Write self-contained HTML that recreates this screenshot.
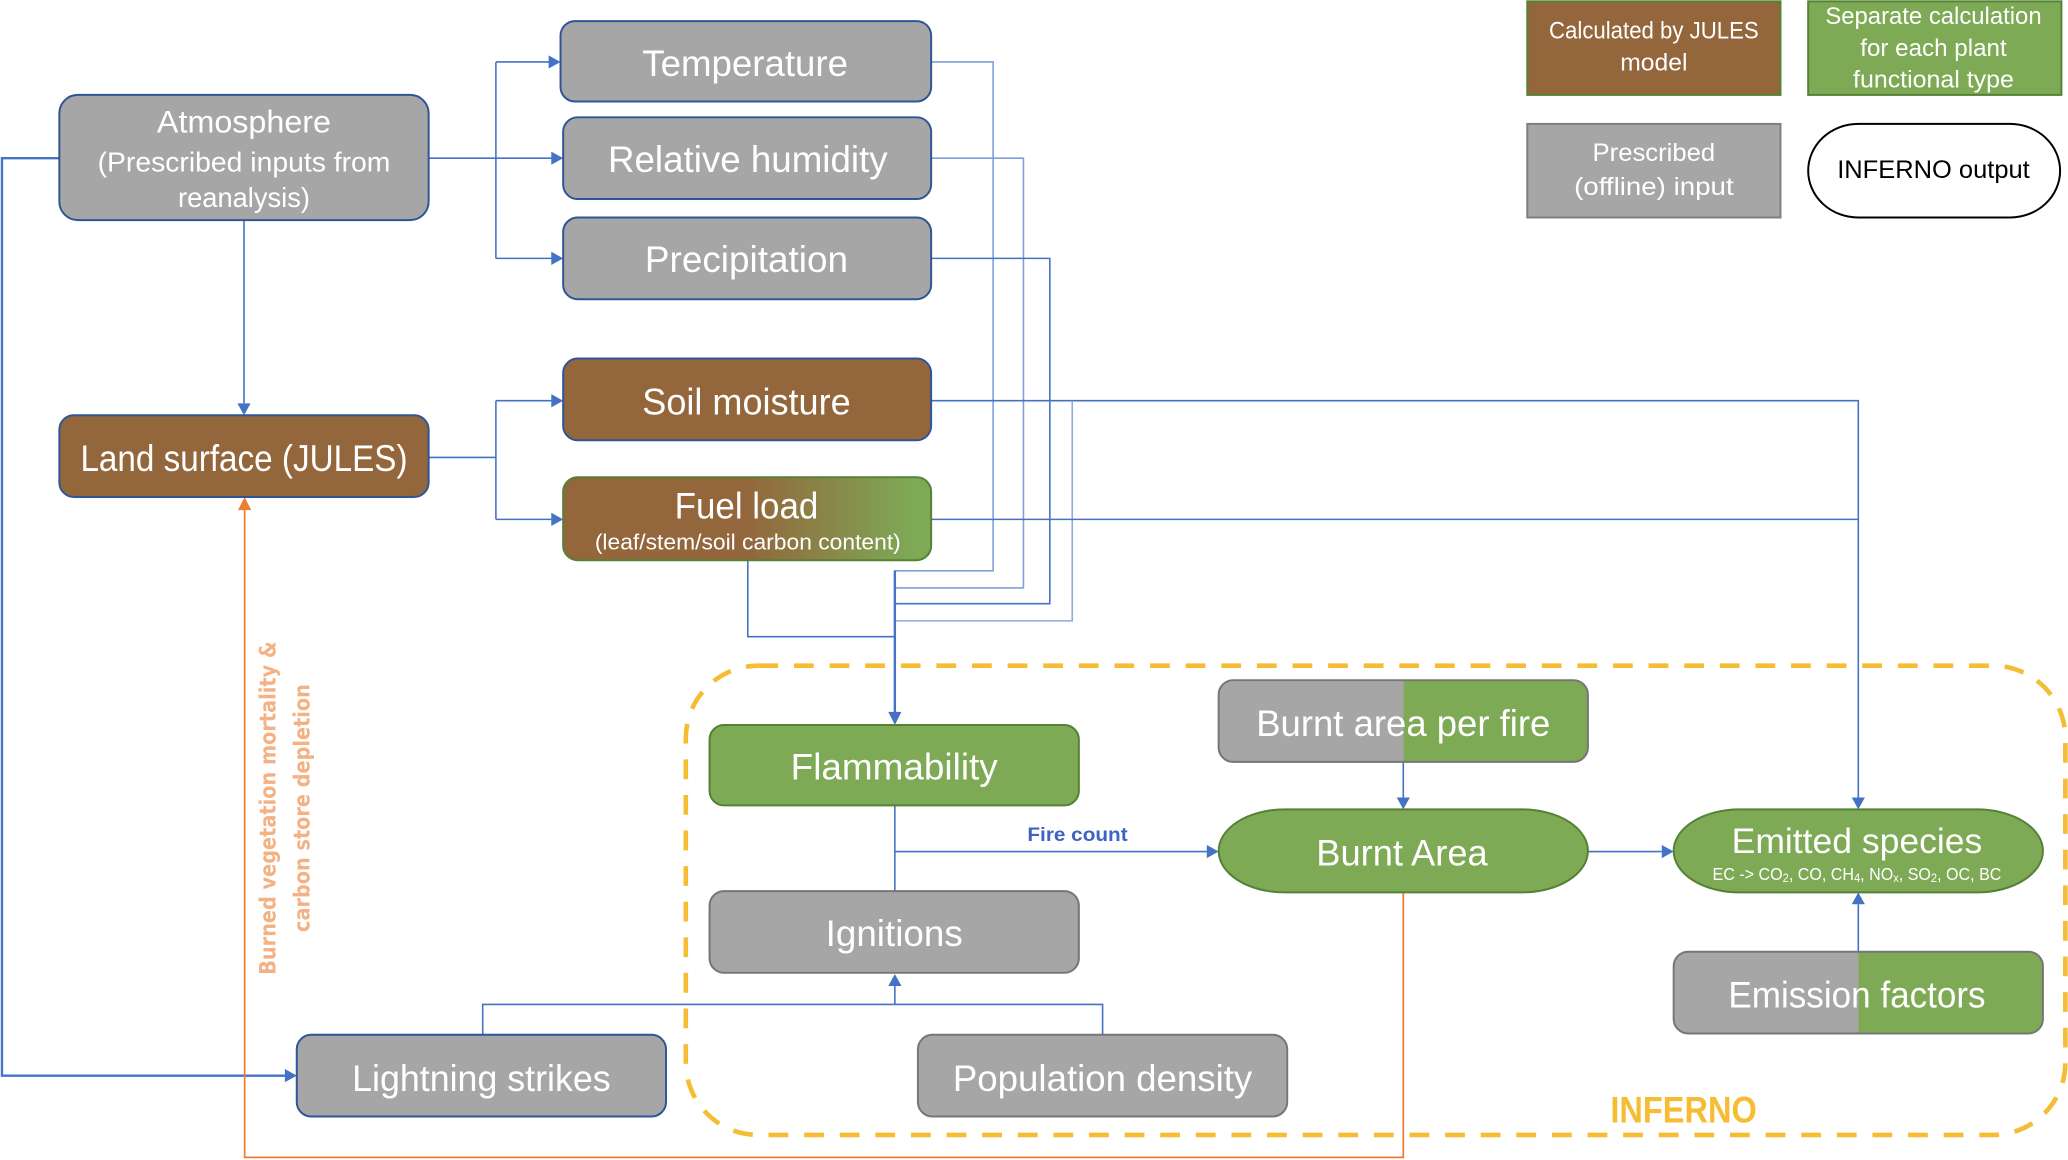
<!DOCTYPE html>
<html><head><meta charset="utf-8"><style>
html,body{margin:0;padding:0;background:#fff;}
svg{display:block;}
text{font-family:"Liberation Sans",sans-serif;}
</style></head><body>
<svg width="2068" height="1160" viewBox="0 0 1568 880" preserveAspectRatio="none" xmlns="http://www.w3.org/2000/svg">
<defs>
<linearGradient id="fuel" x1="0" y1="0" x2="1" y2="0">
<stop offset="0" stop-color="#93663C"/><stop offset="0.5" stop-color="#93663C"/><stop offset="0.95" stop-color="#7EA955"/><stop offset="1" stop-color="#7EA955"/>
</linearGradient>
<linearGradient id="split" x1="0" y1="0" x2="1" y2="0">
<stop offset="0" stop-color="#A6A6A6"/><stop offset="0.5" stop-color="#A6A6A6"/><stop offset="0.5" stop-color="#7EA955"/><stop offset="1" stop-color="#7EA955"/>
</linearGradient>
</defs>

<!-- INFERNO dashed region -->
<rect x="520" y="505" width="1046" height="356" rx="55" ry="55" fill="none" stroke="#F6BC33" stroke-width="3.5" stroke-dasharray="15 12"/>

<!-- connectors blue -->
<g fill="none" stroke="#4472C4" stroke-width="1.2">
<path d="M45,120 H1.5 V816 H218" stroke-width="1.8"/>
<path d="M325,120 H420"/>
<path d="M376,47 V196"/>
<path d="M376,47 H418"/>
<path d="M376,196 H420"/>
<path d="M185,167 V306"/>
<path d="M325,347 H376"/>
<path d="M376,304 V394"/>
<path d="M376,304 H420"/>
<path d="M376,394 H420"/>
<path d="M706,47 H753 V433 H678" stroke="#7F9FDA"/>
<path d="M706,120 H776 V446 H678" stroke="#7F9FDA"/>
<path d="M706,196 H796 V458 H678"/>
<path d="M706,304 H1409 V605"/>
<path d="M813,304 V471 H678" stroke="#8FAADC"/>
<path d="M706,394 H1409"/>
<path d="M567,425 V483 H678"/>
<path d="M678.5,433 V541" stroke-width="1.8"/>
<path d="M678.5,611 V676"/>
<path d="M678.5,646 H915"/>
<path d="M678.5,747 V762"/>
<path d="M366,785 V762 H836 V785"/>
<path d="M1064,578 V605"/>
<path d="M1204,646 H1260"/>
<path d="M1409,722 V686"/>
</g>
<!-- arrowheads -->
<g fill="#4472C4">
<polygon points="225,816 216,811 216,821"/>
<polygon points="427,120 418,115 418,125"/>
<polygon points="425,47 416,42 416,52"/>
<polygon points="427,196 418,191 418,201"/>
<polygon points="185,315 180,306 190,306"/>
<polygon points="427,304 418,299 418,309"/>
<polygon points="427,394 418,389 418,399"/>
<polygon points="678.5,550 673.5,540 683.5,540"/>
<polygon points="924,646 915,641 915,651"/>
<polygon points="678.5,739 673.5,748 683.5,748"/>
<polygon points="1064,614 1059,605 1069,605"/>
<polygon points="1269,646 1260,641 1260,651"/>
<polygon points="1409,614 1404,605 1414,605"/>
<polygon points="1409,677 1404,686 1414,686"/>
</g>

<!-- orange feedback -->
<path d="M1064,677 V878 H185.5 V386" fill="none" stroke="#ED7D31" stroke-width="1.3"/>
<polygon points="185.5,377 180.5,387 190.5,387" fill="#ED7D31"/>
<g fill="#F4B183" font-weight="bold" font-family="'DejaVu Sans','Liberation Sans',sans-serif">
<text transform="translate(203.5,613) rotate(-90)" text-anchor="middle" dominant-baseline="central" font-size="17" textLength="253" lengthAdjust="spacingAndGlyphs" style="font-family:'DejaVu Sans','Liberation Sans',sans-serif">Burned vegetation mortality &amp;</text>
<text transform="translate(229.5,613) rotate(-90)" text-anchor="middle" dominant-baseline="central" font-size="17" textLength="188" lengthAdjust="spacingAndGlyphs" style="font-family:'DejaVu Sans','Liberation Sans',sans-serif">carbon store depletion</text>
</g>

<!-- boxes -->
<g stroke-width="1.5">
<rect x="425" y="16" width="281" height="61" rx="11" fill="#A6A6A6" stroke="#2F5597"/>
<rect x="427" y="89" width="279" height="62" rx="11" fill="#A6A6A6" stroke="#2F5597"/>
<rect x="427" y="165" width="279" height="62" rx="11" fill="#A6A6A6" stroke="#2F5597"/>
<rect x="45" y="72" width="280" height="95" rx="14" fill="#A6A6A6" stroke="#2F5597"/>
<rect x="427" y="272" width="279" height="62" rx="11" fill="#93663C" stroke="#2F5597"/>
<rect x="427" y="362" width="279" height="63" rx="11" fill="url(#fuel)" stroke="#548235"/>
<rect x="45" y="315" width="280" height="62" rx="11" fill="#93663C" stroke="#2F5597"/>
<rect x="538" y="550" width="280" height="61" rx="11" fill="#7EA955" stroke="#548235"/>
<rect x="538" y="676" width="280" height="62" rx="11" fill="#A6A6A6" stroke="#767676"/>
<rect x="225" y="785" width="280" height="62" rx="11" fill="#A6A6A6" stroke="#2F5597"/>
<rect x="696" y="785" width="280" height="62" rx="11" fill="#A6A6A6" stroke="#767676"/>
<rect x="924" y="516" width="280" height="62" rx="11" fill="url(#split)" stroke="#767676"/>
<rect x="924" y="614" width="280" height="63" rx="50" ry="31.5" fill="#7EA955" stroke="#548235"/>
<rect x="1269" y="614" width="280" height="63" rx="50" ry="31.5" fill="#7EA955" stroke="#548235"/>
<rect x="1269" y="722" width="280" height="62" rx="11" fill="url(#split)" stroke="#767676"/>
<!-- legend -->
<rect x="1158" y="1" width="192" height="71" fill="#93663C" stroke="#548235"/>
<rect x="1371" y="1" width="192" height="71" fill="#7EA955" stroke="#548235"/>
<rect x="1158" y="94" width="192" height="71" fill="#A6A6A6" stroke="#7F7F7F"/>
<rect x="1371" y="94" width="191" height="71" rx="38" ry="36" fill="#fff" stroke="#000"/>
</g>

<!-- labels -->
<g fill="#fff" text-anchor="middle" dominant-baseline="central">
<text x="565" y="48" font-size="28" textLength="156" lengthAdjust="spacingAndGlyphs">Temperature</text>
<text x="567" y="121" font-size="28" textLength="212" lengthAdjust="spacingAndGlyphs">Relative humidity</text>
<text x="566" y="197" font-size="28" textLength="154" lengthAdjust="spacingAndGlyphs">Precipitation</text>
<text x="185" y="92" font-size="24" textLength="132" lengthAdjust="spacingAndGlyphs">Atmosphere</text>
<text x="185" y="123" font-size="21" textLength="222" lengthAdjust="spacingAndGlyphs">(Prescribed inputs from</text>
<text x="185" y="150" font-size="21" textLength="100" lengthAdjust="spacingAndGlyphs">reanalysis)</text>
<text x="185" y="348" font-size="28" textLength="248" lengthAdjust="spacingAndGlyphs">Land surface (JULES)</text>
<text x="566" y="305" font-size="28" textLength="158" lengthAdjust="spacingAndGlyphs">Soil moisture</text>
<text x="566" y="384" font-size="28" textLength="109" lengthAdjust="spacingAndGlyphs">Fuel load</text>
<text x="567" y="411" font-size="17" textLength="232" lengthAdjust="spacingAndGlyphs">(leaf/stem/soil carbon content)</text>
<text x="678" y="582" font-size="28" textLength="157" lengthAdjust="spacingAndGlyphs">Flammability</text>
<text x="678" y="708" font-size="28" textLength="104" lengthAdjust="spacingAndGlyphs">Ignitions</text>
<text x="365" y="818" font-size="28" textLength="196" lengthAdjust="spacingAndGlyphs">Lightning strikes</text>
<text x="836" y="818" font-size="28" textLength="227" lengthAdjust="spacingAndGlyphs">Population density</text>
<text x="1064" y="549" font-size="28" textLength="223" lengthAdjust="spacingAndGlyphs">Burnt area per fire</text>
<text x="1063" y="647" font-size="28" textLength="130" lengthAdjust="spacingAndGlyphs">Burnt Area</text>
<text x="1408" y="638" font-size="27" textLength="190" lengthAdjust="spacingAndGlyphs">Emitted species</text>
<text x="1408" y="663" font-size="13" textLength="219" lengthAdjust="spacingAndGlyphs">EC -&gt; CO<tspan font-size="9" dy="3">2</tspan><tspan dy="-3">, CO, CH</tspan><tspan font-size="9" dy="3">4</tspan><tspan dy="-3">, NO</tspan><tspan font-size="9" dy="3">x</tspan><tspan dy="-3">, SO</tspan><tspan font-size="9" dy="3">2</tspan><tspan dy="-3">, OC, BC</tspan></text>
<text x="1408" y="755" font-size="28" textLength="195" lengthAdjust="spacingAndGlyphs">Emission factors</text>
<text x="1254" y="24" font-size="18" textLength="159" lengthAdjust="spacingAndGlyphs">Calculated by JULES</text>
<text x="1254" y="48" font-size="18" textLength="51" lengthAdjust="spacingAndGlyphs">model</text>
<text x="1466" y="13" font-size="18" textLength="164" lengthAdjust="spacingAndGlyphs">Separate calculation</text>
<text x="1466" y="37" font-size="18" textLength="111" lengthAdjust="spacingAndGlyphs">for each plant</text>
<text x="1466" y="61" font-size="18" textLength="122" lengthAdjust="spacingAndGlyphs">functional type</text>
<text x="1254" y="116" font-size="19" textLength="93" lengthAdjust="spacingAndGlyphs">Prescribed</text>
<text x="1254" y="142" font-size="19" textLength="121" lengthAdjust="spacingAndGlyphs">(offline) input</text>
<text x="1466" y="129" font-size="19" fill="#000" textLength="146" lengthAdjust="spacingAndGlyphs">INFERNO output</text>
</g>
<text x="817" y="633.5" font-size="15" font-weight="bold" fill="#3F63C4" text-anchor="middle" dominant-baseline="central" textLength="76" lengthAdjust="spacingAndGlyphs">Fire count</text>
<text x="1276.5" y="842" font-size="28" font-weight="bold" fill="#F6BC33" text-anchor="middle" dominant-baseline="central" textLength="111" lengthAdjust="spacingAndGlyphs">INFERNO</text>
</svg>
</body></html>
